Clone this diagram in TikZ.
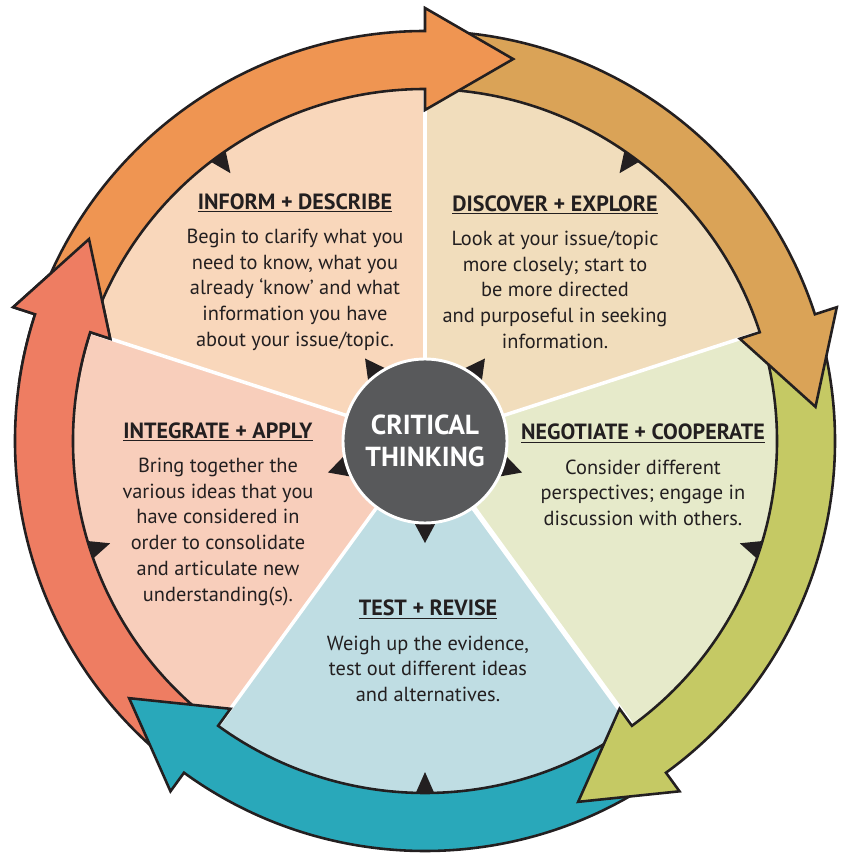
\documentclass[tikz,border=0pt]{standalone}
\usepackage{fontspec}
\setmainfont{PT Sans}

\definecolor{ink}{HTML}{231F20}
\definecolor{hub}{HTML}{58595B}
\definecolor{informfill}{HTML}{F9D7BB}
\definecolor{discoverfill}{HTML}{F1DDBC}
\definecolor{negotiatefill}{HTML}{E6EACA}
\definecolor{testfill}{HTML}{BFDDE3}
\definecolor{integratefill}{HTML}{F8CEBB}
\definecolor{orangearrow}{HTML}{EF9552}
\definecolor{brownarrow}{HTML}{DAA357}
\definecolor{greenarrow}{HTML}{C5C964}
\definecolor{tealarrow}{HTML}{29A8BA}
\definecolor{redarrow}{HTML}{EE7D62}

\begin{document}
\begin{tikzpicture}[x=0.3mm,y=0.3mm,
	band/.style={draw=ink,line width=2.2pt,line join=miter},
	separator/.style={white,line width=3pt},
	pointer/.style={fill=ink},
	textblock/.style={align=center,text=ink,inner sep=0pt,font=\fontsize{17.4}{22}\selectfont},
	hubnode/.style={circle,fill=hub,draw=white,line width=2.5pt,minimum size=49.2mm,text=white,align=center,font=\fontsize{23.5}{27}\selectfont\bfseries}]

%Fix the margins of the picture
	\useasboundingbox (-425,-413) rectangle (416,441);

%Draws the 5 sectors of the wheel, each one 72 degrees wide
	\foreach \start/\col in {90/informfill,18/discoverfill,-54/negotiatefill,-126/testfill,162/integratefill}
		\fill[\col] (0,0) -- (\start:381) arc[start angle=\start,delta angle=72,radius=381] -- cycle;

%White lines between the sectors
	\foreach \angle/\wd in {90/3pt,18/3pt,-54/4.5pt,-126/3pt,162/3pt}
		\draw[separator,line width=\wd] (0,0) -- (\angle:381);

%Small pointers on the inside of the ring, pointing at the centre
	\foreach \angle in {126,54,-18,-90,198}
		\fill[pointer,rotate=\angle] (331,0) -- (356,11) -- (356,-11) -- cycle;

%The 5 curved arrows: tail angle, base of the head, colour (each head lies on the tail of the next one)
	\foreach \tail/\base/\col in {231/162/redarrow,-57/-126/tealarrow,15/-54/greenarrow,87/18/brownarrow,159/90/orangearrow}
	{
		\pgfmathsetmacro\tip{\base-13}
		\draw[band,fill=\col] (\tail:410) arc[start angle=\tail,end angle=\base,radius=410] -- (\base:433) -- (\tip:392) -- (\base:331) -- (\base:352) arc[start angle=\base,end angle=\tail,radius=352] -- cycle;
	}

%Head of the red arrow drawn again, on top of the orange tail
	\begin{scope}
		\clip (0,0) -- (172:520) arc[start angle=172,end angle=138,radius=520] -- cycle;
		\draw[band,fill=redarrow] (231:410) arc[start angle=231,end angle=162,radius=410] -- (162:433) -- (149:392) -- (162:331) -- (162:352) arc[start angle=162,end angle=231,radius=352] -- cycle;
	\end{scope}

%Pointers round the hub
	\foreach \angle in {126,54,-18,-90,198}
		\fill[pointer,rotate=\angle] (102,0) -- (72,16) -- (72,-16) -- cycle;

%The hub
	\node[hubnode] (thinking) at (0,0) {CRITICAL\\THINKING};

%Texts of the sectors
	\node[textblock] (inform) at (-130,169) {\underline{\textbf{\fontsize{18.8}{22}\selectfont INFORM + DESCRIBE}}\\[2.5mm]
		Begin to clarify what you\\ need to know, what you\\ already `know' and what\\ information you have\\ about your issue/topic.};
	\node[textblock] (discover) at (130,169) {\underline{\textbf{\fontsize{18.8}{22}\selectfont DISCOVER + EXPLORE}}\\[2.5mm]
		Look at your issue/topic\\ more closely; start to\\ be more directed\\ and purposeful in seeking\\ information.};
	\node[textblock] (negotiate) at (218,-34) {\underline{\textbf{\fontsize{18.8}{22}\selectfont NEGOTIATE + COOPERATE}}\\[2.5mm]
		Consider different\\ perspectives; engage in\\ discussion with others.};
	\node[textblock] (integrate) at (-207,-73) {\underline{\textbf{\fontsize{18.8}{22}\selectfont INTEGRATE + APPLY}}\\[2.5mm]
		Bring together the\\ various ideas that you\\ have considered in\\ order to consolidate\\ and articulate new\\ understanding(s).};
	\node[textblock] (test) at (3,-210) {\underline{\textbf{\fontsize{18.8}{22}\selectfont TEST + REVISE}}\\[2.5mm]
		Weigh up the evidence,\\ test out different ideas\\ and alternatives.};

\end{tikzpicture}
\end{document}
